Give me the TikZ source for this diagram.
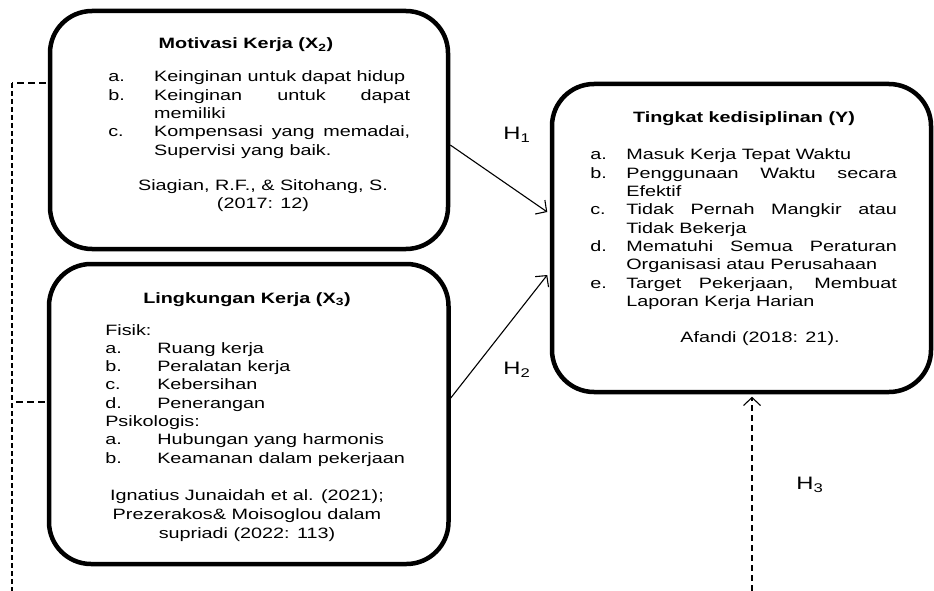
\documentclass[tikz,border=0pt]{standalone}
\usepackage{fontspec}
\setmainfont{Liberation Sans}
\usetikzlibrary{arrows.meta,calc}
\begin{document}
\begin{tikzpicture}[x=1pt,y=-1pt,
  box/.style={draw, line width=4.5pt, rounded corners=42pt, inner sep=0pt},
  txt/.style={inner sep=0pt, xscale=1.32, font=\fontsize{15}{18.3}\selectfont},
  cite/.style={inner sep=0pt, xscale=1.32, font=\fontsize{15}{19}\selectfont},
  ttl/.style={inner sep=0pt, xscale=1.32, font=\fontsize{15}{18.3}\selectfont\bfseries},
  hlab/.style={inner sep=0pt, xscale=1.32, font=\fontsize{18}{20}\selectfont},
  conn/.style={line width=1.1pt, -{Straight Barb[length=8pt,width=17pt,line width=1.1pt]}},
  dconn/.style={line width=1.1pt, dash pattern=on 6pt off 4pt, -{Straight Barb[length=8pt,width=17pt,line width=1.1pt]}},
  dh/.style={line width=1.1pt, dash pattern=on 7pt off 4pt},
  dv/.style={line width=1.1pt, dash pattern=on 5pt off 3pt}]
\useasboundingbox (0,0) rectangle (934,591);

% boxes
\node[box, minimum width=398pt, minimum height=238pt] (box1) at (249,130) {};
\node[box, minimum width=399.5pt, minimum height=300pt] (box2) at (248.75,414) {};
\node[box, minimum width=379pt, minimum height=308pt] (boxY) at (741.5,238) {};

% box 1 content
\node[ttl, anchor=base] (t1) at (246,49) {Motivasi Kerja (X\textsubscript{2})};
\node[txt, anchor=base west] (l1) at (108,82) {\begin{tabular}[t]{@{}p{34.8pt}@{}l@{}}
a. & Keinginan untuk dapat hidup\\
b. & \makebox[194pt][s]{Keinginan untuk dapat}\\
   & memiliki\\
c. & \makebox[194pt][s]{Kompensasi yang memadai,}\\
   & Supervisi yang baik.
\end{tabular}};
\node[txt, anchor=base] (c1) at (263,190.5) {\begin{tabular}[t]{@{}c@{}}Siagian, R.F., \& Sitohang, S.\\(2017: 12)\end{tabular}};

% box 2 content
\node[ttl, anchor=base] (t2) at (247,303) {Lingkungan Kerja (X\textsubscript{3})};
\node[txt, anchor=base west] (l2) at (105,335) {\begin{tabular}[t]{@{}p{39.4pt}@{}l@{}}
\multicolumn{2}{@{}l@{}}{Fisik:}\\
a. & Ruang kerja\\
b. & Peralatan kerja\\
c. & Kebersihan\\
d. & Penerangan\\
\multicolumn{2}{@{}l@{}}{Psikologis:}\\
a. & Hubungan yang harmonis\\
b. & Keamanan dalam pekerjaan
\end{tabular}};
\node[cite, anchor=base] (c2) at (247,500) {\begin{tabular}[t]{@{}c@{}}Ignatius Junaidah et al. (2021);\\Prezerakos\& Moisoglou dalam\\supriadi (2022: 113)\end{tabular}};

% box Y content
\node[ttl, anchor=base] (ty) at (744,123) {Tingkat kedisiplinan (Y)};
\node[txt, anchor=base west] (ly) at (590,160) {\begin{tabular}[t]{@{}p{27.3pt}@{}l@{}}
a. & Masuk Kerja Tepat Waktu\\
b. & \makebox[205pt][s]{Penggunaan Waktu secara}\\
   & Efektif\\
c. & \makebox[205pt][s]{Tidak Pernah Mangkir atau}\\
   & Tidak Bekerja\\
d. & \makebox[205pt][s]{Mematuhi Semua Peraturan}\\
   & Organisasi atau Perusahaan\\
e. & \makebox[205pt][s]{Target Pekerjaan, Membuat}\\
   & Laporan Kerja Harian
\end{tabular}};
\node[txt, anchor=base] (cy) at (760,342) {Afandi (2018: 21).};

% hypothesis labels
\node[hlab] (h1) at (517,135) {H\textsubscript{1}};
\node[hlab] (h2) at (517,370) {H\textsubscript{2}};
\node[hlab] (h3) at (810,485) {H\textsubscript{3}};

% connectors
\draw[conn] ($(box1.east)+(0,15)$) -- ($(boxY.west)+(-2.5,-26)$);
\draw[conn] ($(box2.east)+(0,-16)$) -- ($(boxY.west)+(-2.5,37)$);
\coordinate (yb) at (752,591);
\draw[dconn] (yb) -- ($(boxY.south)+(10.5,2.5)$);

% left dashed feedback line
\coordinate (lc) at (12,83);
\coordinate (lb) at (12,591);
\coordinate (lm) at (12,402);
\draw[dh] ($(box1.west)+(-2.25,-47)$) -- (lc);
\draw[dv] (lc) -- (lb);
\draw[dh] ($(box2.west)+(-2.25,-12)$) -- (lm);
\end{tikzpicture}
\end{document}
